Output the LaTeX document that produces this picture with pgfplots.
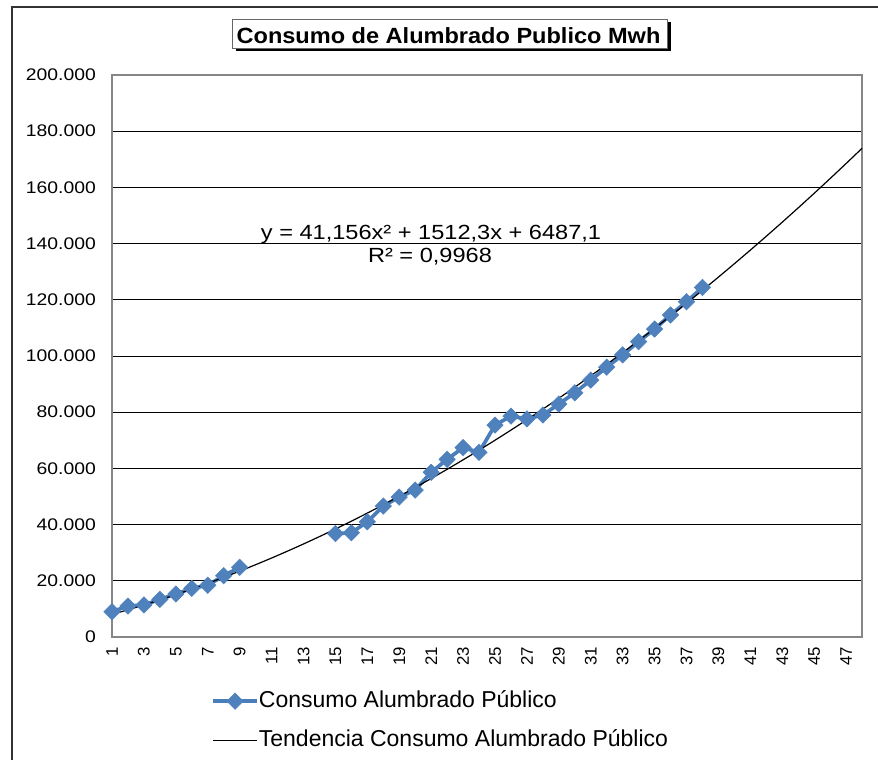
\documentclass[border=0pt]{standalone}
\usepackage{fontspec}
\setmainfont{Liberation Sans}
\newfontfamily\widefont{Liberation Sans}[FakeStretch=1.15]
\newfontfamily\titlefont{Liberation Sans}[FakeStretch=1.07]
\usepackage{pgfplots}
\usepackage{pgfplotstable}
\pgfplotsset{compat=1.18}
\definecolor{serblue}{HTML}{4A7EBB}
\definecolor{markblue}{HTML}{4F81BD}
\definecolor{framegray}{HTML}{868686}

\pgfplotstableread{
x y
1 9000
2 11000
3 11400
4 13400
5 15300
6 17300
7 18400
8 21800
9 24800
10 nan
11 nan
12 nan
13 nan
14 nan
15 36800
16 37100
17 41000
18 46600
19 49800
20 52300
21 58600
22 63200
23 67400
24 65700
25 75400
26 78600
27 77600
28 79000
29 82900
30 86900
31 91400
32 96000
33 100400
34 105100
35 109600
36 114600
37 119300
38 124400
}\consumo

\begin{document}
\begin{tikzpicture}[x=1bp,y=1bp]
\path[use as bounding box] (0,0) rectangle (878,760);
\draw[black!80, line width=1.5bp] (12,0) -- (12,753) -- (878,753);
\begin{axis}[
  at={(112bp,123bp)}, anchor=south west,
  scale only axis, width=750bp, height=562bp,
  xmin=1, xmax=48, ymin=0, ymax=200000,
  xtick={1,3,...,47}, ytick={0,20000,...,200000},
  ymajorgrids, major grid style={black, line width=0.9bp},
  major tick length=0pt,
  axis line style={framegray, line width=1.8bp},
  scaled y ticks=false,
  /pgf/number format/fixed,
  /pgf/number format/1000 sep={.},
  /pgf/number format/assume math mode=true,
  yticklabel style={font=\widefont\fontsize{16.8bp}{20bp}\selectfont, inner sep=0pt, xshift=-16bp, anchor=east},
  xticklabel style={font=\fontsize{16.8bp}{20bp}\selectfont, inner sep=0pt, yshift=-10bp, rotate=90, anchor=east},
  clip=false,
  unbounded coords=jump,
  legend style={at={(0.128,-0.0907)}, anchor=north west, draw=none, fill=none,
    font=\fontsize{23bp}{27bp}\selectfont,
    nodes={inner sep=0pt, text height=17bp, text depth=5bp},
    row sep=17.5bp, column sep=0bp},
  legend cell align=left,
  legend image code/.code={\draw[#1, mark repeat=2, mark phase=2] plot coordinates {(0bp,0bp) (22bp,0bp) (44bp,0bp)};},
]
\addplot[serblue, line width=3.7bp, mark=square*, mark size=5.8bp,
  mark options={rotate=45, fill=markblue, draw=markblue, line width=0.5bp}]
  table[x=x, y=y] {\consumo};
\addlegendentry{Consumo Alumbrado Público}
\addplot[black, line width=1.2bp, smooth, mark=none] coordinates {
(1,8040.6) (2,9676.3) (3,11394.4) (4,13194.8) (5,15077.5) (6,17042.5)
(7,19089.8) (8,21219.5) (9,23431.4) (10,25725.7) (11,28102.3) (12,30561.2)
(13,33102.4) (14,35725.9) (15,38431.7) (16,41219.8) (17,44090.3) (18,47043.0)
(19,50078.1) (20,53195.5) (21,56395.2) (22,59677.2) (23,63041.5) (24,66488.2)
(25,70017.1) (26,73628.4) (27,77321.9) (28,81097.8) (29,84956.0) (30,88896.5)
(31,92919.3) (32,97024.4) (33,101211.9) (34,105481.6) (35,109833.7) (36,114268.1)
(37,118784.8) (38,123383.8) (39,128065.1) (40,132828.7) (41,137674.6) (42,142602.9)
(43,147613.4) (44,152706.3) (45,157881.5) (46,163139.0) (47,168478.8) (48,173900.9)
};
\addlegendentry{Tendencia Consumo Alumbrado Público}
\end{axis}
\fill[black] (235.5,709) rectangle (671,738);
\draw[fill=white, draw=black!60, line width=0.8bp] (232,712) rectangle (667,741);
\node[anchor=base, inner sep=0pt, font=\titlefont\bfseries\fontsize{22bp}{26bp}\selectfont] at (448.5,716.7) {Consumo de Alumbrado Publico Mwh};
\node[anchor=base, inner sep=0pt, font=\widefont\fontsize{20.5bp}{25bp}\selectfont] at (431,520.3) {y = 41,156x² + 1512,3x + 6487,1};
\node[anchor=base, inner sep=0pt, font=\widefont\fontsize{20.5bp}{25bp}\selectfont] at (430,497.7) {R² = 0,9968};
\end{tikzpicture}
\end{document}
